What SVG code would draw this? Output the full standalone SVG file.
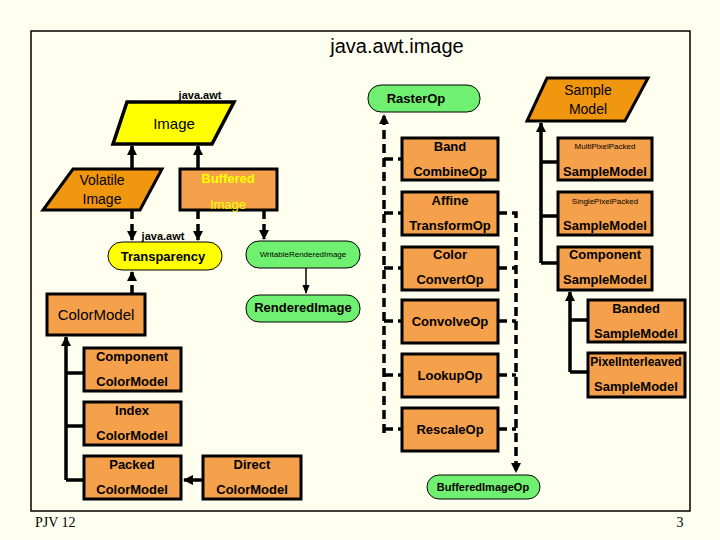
<svg xmlns="http://www.w3.org/2000/svg" width="720" height="540" viewBox="0 0 720 540">
<defs>
<marker id="ah" viewBox="0 0 10 10" refX="9" refY="5" markerWidth="3" markerHeight="3" orient="auto"><path d="M0,0L10,5L0,10z" fill="#000"/></marker>
<marker id="ahs" viewBox="0 0 10 10" refX="9" refY="5" markerWidth="6" markerHeight="6" orient="auto"><path d="M0,1L10,5L0,9z" fill="#000"/></marker>
</defs>
<style>
text{font-family:"Liberation Sans",Arial,sans-serif;font-weight:bold;font-size:13px;text-anchor:middle;fill:#000}
.box{fill:#F5A04A;stroke:#000;stroke-width:3}
.dk{fill:#F0960F;stroke:#000;stroke-width:3}
.yl{fill:#FFFF00;stroke:#000;stroke-width:1}
.gr{fill:#70F070;stroke:#000;stroke-width:1}
.s{stroke:#000;stroke-width:3.5;fill:none}
.d{stroke:#000;stroke-width:3.5;fill:none;stroke-dasharray:9,5}
.sm{font-size:8px;font-weight:normal}
</style>
<rect x="0" y="0" width="720" height="540" fill="#FFFFF0"/>
<rect x="31" y="31" width="659" height="480" fill="none" stroke="#000" stroke-width="1.5"/>
<text x="397" y="53" style="font-size:20px;font-weight:normal">java.awt.image</text>
<text x="35" y="527" style="font-family:'Liberation Serif',serif;font-weight:normal;font-size:14px;text-anchor:start">PJV 12</text>
<text x="680" y="527" style="font-family:'Liberation Serif',serif;font-weight:normal;font-size:14px">3</text>
<g id="connectors">
<path class="s" d="M132,169V146" marker-end="url(#ah)"/>
<path class="s" d="M198,169V146" marker-end="url(#ah)"/>
<path class="d" d="M132,210V240" marker-end="url(#ah)"/>
<path class="d" d="M198,210V240" marker-end="url(#ah)"/>
<path class="d" d="M264,210V239" marker-end="url(#ah)"/>
<path d="M306,268V293" stroke="#000" stroke-width="1.5" marker-end="url(#ahs)"/>
<path class="d" d="M132,294V272" marker-end="url(#ah)"/>
<path class="s" d="M66,480V337" marker-end="url(#ah)"/>
<path class="s" d="M66,373H84M66,426H84M66,480H84"/>
<path class="s" d="M203,480H184" marker-end="url(#ah)"/>
<path class="d" d="M384,433V115" marker-end="url(#ah)"/>
<path class="d" d="M384,159H402M384,213H402M384,268H402M384,321H402M384,375H402M384,429H402"/>
<path class="d" d="M498,213H516V472" marker-end="url(#ah)"/>
<path class="d" d="M498,268H516M498,321H516M498,375H516M498,429H516"/>
<path class="s" d="M541,263V123" marker-end="url(#ah)"/>
<path class="s" d="M541,162H558M541,216H558M541,263H558"/>
<path class="s" d="M570,372V292" marker-end="url(#ah)"/>
<path class="s" d="M570,320H588M570,372H588"/>
</g>
<g id="image"><text x="200" y="99" style="font-size:11px">java.awt</text><polygon class="yl" style="stroke-width:3.5" points="127,102 234,102 212,144 113,144"/><text x="174" y="129" style="font-size:15px;font-weight:normal">Image</text></g>
<g id="volatile"><polygon class="dk" points="73,169 162,169 140,210 43,210"/><text x="102" y="185" style="font-size:14px;font-weight:normal">Volatile</text><text x="102" y="204" style="font-size:14px;font-weight:normal">Image</text></g>
<g id="buffered"><rect class="box" x="180" y="169" width="97" height="41"/><text x="228" y="183" style="fill:#FFFF00">Buffered</text><text x="228" y="209" style="fill:#FFFF00;font-weight:normal">Image</text></g>
<g id="transparency"><text x="163" y="240" style="font-size:11px">java.awt</text><rect class="yl" x="108" y="242" width="114" height="28" rx="14"/><text x="163" y="261">Transparency</text></g>
<g id="writable"><rect class="gr" x="246" y="241" width="114" height="27" rx="13"/><text x="303" y="257" class="sm">WritableRenderedImage</text></g>
<g id="rendered"><rect class="gr" x="246" y="295" width="114" height="27" rx="13"/><text x="303" y="312">RenderedImage</text></g>
<g id="colormodel"><rect class="box" x="47" y="294" width="98" height="41"/><text x="96" y="320" style="font-size:15px;font-weight:normal">ColorModel</text></g>
<g id="compcm"><rect class="box" x="84" y="348" width="97" height="43"/><text x="132" y="361">Component</text><text x="132" y="386">ColorModel</text></g>
<g id="indexcm"><rect class="box" x="84" y="402" width="97" height="43"/><text x="132" y="415">Index</text><text x="132" y="440">ColorModel</text></g>
<g id="packedcm"><rect class="box" x="84" y="456" width="97" height="43"/><text x="132" y="469">Packed</text><text x="132" y="494">ColorModel</text></g>
<g id="directcm"><rect class="box" x="203" y="456" width="98" height="43"/><text x="252" y="469">Direct</text><text x="252" y="494">ColorModel</text></g>
<g id="rasterop"><rect class="gr" x="368" y="85" width="112" height="27" rx="13"/><text x="416" y="103">RasterOp</text></g>
<g id="band"><rect class="box" x="402" y="138" width="96" height="42"/><text x="450" y="151">Band</text><text x="450" y="176">CombineOp</text></g>
<g id="affine"><rect class="box" x="402" y="192" width="96" height="43"/><text x="450" y="205">Affine</text><text x="450" y="230">TransformOp</text></g>
<g id="color"><rect class="box" x="402" y="247" width="96" height="43"/><text x="450" y="259">Color</text><text x="450" y="284">ConvertOp</text></g>
<g id="convolve"><rect class="box" x="402" y="300" width="96" height="43"/><text x="450" y="326">ConvolveOp</text></g>
<g id="lookup"><rect class="box" x="402" y="354" width="96" height="43"/><text x="450" y="380">LookupOp</text></g>
<g id="rescale"><rect class="box" x="402" y="408" width="96" height="43"/><text x="450" y="434">RescaleOp</text></g>
<g id="bio"><rect class="gr" x="427" y="475" width="113" height="24" rx="12"/><text x="483" y="491" style="font-size:11px">BufferedImageOp</text></g>
<g id="samplemodel"><polygon class="dk" points="547,78 648,78 625,121 527,121"/><text x="588" y="95" style="font-size:14px;font-weight:normal">Sample</text><text x="588" y="114" style="font-size:14px;font-weight:normal">Model</text></g>
<g id="multi"><rect class="box" x="558" y="138" width="94" height="42"/><text x="605" y="149" class="sm">MultiPixelPacked</text><text x="605" y="176">SampleModel</text></g>
<g id="single"><rect class="box" x="558" y="192" width="94" height="43"/><text x="605" y="204" class="sm">SinglePixelPacked</text><text x="605" y="230">SampleModel</text></g>
<g id="compsm"><rect class="box" x="558" y="247" width="94" height="43"/><text x="605" y="259">Component</text><text x="605" y="284">SampleModel</text></g>
<g id="banded"><rect class="box" x="588" y="300" width="97" height="42"/><text x="636" y="313">Banded</text><text x="636" y="338">SampleModel</text></g>
<g id="pixel"><rect class="box" x="588" y="353" width="97" height="44"/><text x="636" y="366" style="font-size:12px">PixelInterleaved</text><text x="636" y="391">SampleModel</text></g>
</svg>
